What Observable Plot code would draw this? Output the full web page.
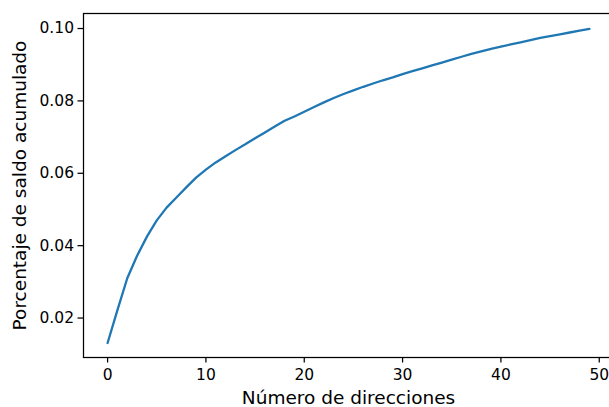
<!DOCTYPE html>
<html>
<head>
<meta charset="utf-8">
<script src="https://cdn.jsdelivr.net/npm/d3@7"></script>
<script src="https://cdn.jsdelivr.net/npm/@observablehq/plot@0.6"></script>
<style>
  html, body { margin: 0; padding: 0; background: #fff; overflow: hidden; width: 609px; height: 407px; }
  #chart { width: 609px; height: 407px; overflow: hidden; }
  #chart svg { display: block; max-width: none !important; width: 616px !important; height: 407px !important; }
</style>
</head>
<body>
<div id="chart"></div>
<script>
const direcciones = d3.range(0, 50);
const porcentaje = [
  0.0131, 0.0222, 0.0310, 0.0372, 0.0425, 0.0470, 0.0505, 0.0533, 0.0561, 0.0588,
  0.0610, 0.0630, 0.0647, 0.0664, 0.0680, 0.0697, 0.0713, 0.0729, 0.0745, 0.0757,
  0.0770, 0.0783, 0.0796, 0.0808, 0.0819, 0.0829, 0.0839, 0.0848, 0.0857, 0.0865,
  0.0874, 0.0882, 0.0890, 0.0898, 0.0906, 0.0914, 0.0922, 0.0930, 0.0937, 0.0944,
  0.0950, 0.0956, 0.0962, 0.0968, 0.0974, 0.0979, 0.0984, 0.0989, 0.0994, 0.0999
];
const xTicks = [0, 10, 20, 30, 40, 50];
const yTicks = [0.02, 0.04, 0.06, 0.08, 0.10];
const xLabel = "Número de direcciones";
const yLabel = "Porcentaje de saldo acumulado";

const data = direcciones.map((d, i) => ({x: d, y: porcentaje[i]}));

const chart = Plot.plot({
  width: 616,
  height: 407,
  marginLeft: 83,
  marginRight: 3,
  marginTop: 13,
  marginBottom: 50,
  style: {fontFamily: "'DejaVu Sans', sans-serif", fontSize: "15.5px", color: "#000", background: "#fff", overflow: "visible"},
  x: {domain: [-2.45, 51.45]},
  y: {domain: [0.0091, 0.10415]},
  marks: [
    Plot.axisX({ticks: xTicks, tickSize: 5.5, tickPadding: 6, fontSize: 15.5, label: null, tickFormat: d3.format("d"), stroke: "#000", strokeWidth: 1.25}),
    Plot.axisY({ticks: yTicks, tickSize: 5.5, tickPadding: 4, fontSize: 15.5, label: null, tickFormat: d3.format(".2f"), stroke: "#000", strokeWidth: 1.25}),
    Plot.frame({stroke: "#000", strokeWidth: 1.25}),
    Plot.line(data, {x: "x", y: "y", stroke: "#1f77b4", strokeWidth: 2.3}),
    Plot.text([xLabel], {text: d => d, frameAnchor: "bottom", dy: 46, fontSize: 18.5, fill: "#000", lineAnchor: "bottom", textAnchor: "middle"}),
    Plot.text([yLabel], {text: d => d, frameAnchor: "left", dx: -63, rotate: -90, fontSize: 18.5, fill: "#000", textAnchor: "middle", lineAnchor: "middle"})
  ]
});
document.getElementById("chart").appendChild(chart);
</script>
</body>
</html>
